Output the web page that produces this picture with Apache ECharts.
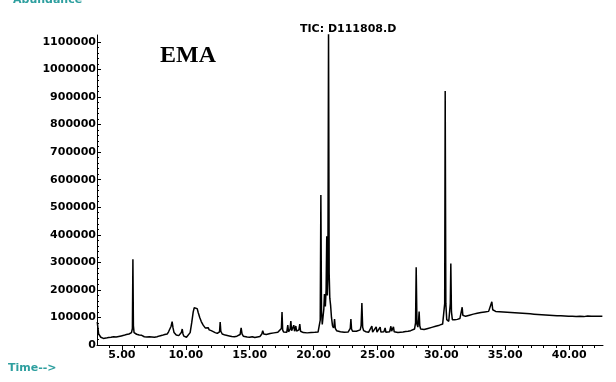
<!DOCTYPE html>
<html>
<head>
<meta charset="utf-8">
<script src="https://cdn.jsdelivr.net/npm/echarts@6/dist/echarts.min.js"></script>
<style>
  html, body { margin: 0; padding: 0; background: #ffffff; }
  #chart { width: 616px; height: 382px; }
</style>
</head>
<body>
<div id="chart"></div>
<script>
// Total ion chromatogram: retention time (min) vs. abundance
const retentionTime = [
  3.07, 3.12, 3.18, 3.25, 3.35, 3.45, 3.55, 3.65, 3.75, 3.85, 3.95, 4.05, 4.15, 4.25, 4.35, 4.45, 4.55, 4.65, 4.75, 4.85,
  4.95, 5.05, 5.15, 5.25, 5.35, 5.45, 5.55, 5.65, 5.75, 5.82, 5.86, 5.90, 5.95, 6.05, 6.15, 6.25, 6.35, 6.45, 6.55, 6.65,
  6.75, 6.85, 6.95, 7.05, 7.15, 7.25, 7.35, 7.45, 7.55, 7.65, 7.75, 7.85, 7.95, 8.05, 8.15, 8.25, 8.35, 8.45, 8.55, 8.65,
  8.75, 8.85, 8.93, 9.00, 9.08, 9.15, 9.25, 9.35, 9.45, 9.55, 9.65, 9.72, 9.78, 9.85, 9.95, 10.05, 10.19, 10.34, 10.46, 10.58,
  10.66, 10.74, 10.81, 10.89, 10.97, 11.09, 11.21, 11.36, 11.44, 11.52, 11.60, 11.67, 11.75, 11.83, 11.91, 11.99, 12.14, 12.30, 12.46, 12.57,
  12.64, 12.69, 12.74, 12.85, 13.08, 13.2, 13.4, 13.6, 13.8, 14.0, 14.15, 14.25, 14.33, 14.40, 14.5, 14.65, 14.8, 15.0, 15.2, 15.4,
  15.6, 15.8, 15.95, 16.02, 16.1, 16.2, 16.3, 16.45, 16.6, 16.75, 16.9, 17.05, 17.2, 17.35, 17.48, 17.53, 17.58, 17.65, 17.75, 17.9,
  17.98, 18.04, 18.10, 18.16, 18.22, 18.28, 18.35, 18.45, 18.51, 18.57, 18.61, 18.67, 18.76, 18.85, 18.92, 18.98, 19.07, 19.2, 19.35, 19.5,
  19.65, 19.8, 19.95, 20.1, 20.25, 20.35, 20.45, 20.52, 20.57, 20.62, 20.68, 20.74, 20.80, 20.85, 20.92, 20.98, 21.03, 21.08, 21.12, 21.17,
  21.22, 21.27, 21.33, 21.40, 21.48, 21.56, 21.60, 21.64, 21.70, 21.8, 21.95, 22.1, 22.25, 22.4, 22.55, 22.7, 22.8, 22.87, 22.92, 22.97,
  23.05, 23.2, 23.35, 23.5, 23.65, 23.72, 23.78, 23.84, 23.92, 24.0, 24.1, 24.2, 24.3, 24.45, 24.56, 24.62, 24.75, 24.9, 24.96, 25.08,
  25.21, 25.27, 25.4, 25.5, 25.6, 25.66, 25.8, 25.95, 26.05, 26.11, 26.18, 26.25, 26.31, 26.45, 26.6, 26.8, 27.0, 27.2, 27.4, 27.6,
  27.75, 27.9, 27.98, 28.03, 28.09, 28.16, 28.22, 28.26, 28.31, 28.38, 28.5, 28.65, 28.8, 28.95, 29.1, 29.25, 29.4, 29.55, 29.7, 29.85,
  30.0, 30.1, 30.2, 30.26, 30.30, 30.35, 30.42, 30.5, 30.58, 30.66, 30.70, 30.74, 30.79, 30.86, 30.95, 31.05, 31.15, 31.25, 31.35, 31.45,
  31.55, 31.63, 31.68, 31.75, 31.9, 32.05, 32.2, 32.35, 32.5, 32.65, 32.8, 32.95, 33.1, 33.25, 33.4, 33.55, 33.7, 33.85, 33.95, 34.02,
  34.1, 34.25, 34.4, 34.55, 34.7, 34.85, 35.0, 35.15, 35.3, 35.45, 35.6, 35.75, 35.9, 36.05, 36.2, 36.35, 36.5, 36.65, 36.8, 36.95,
  37.1, 37.25, 37.4, 37.55, 37.7, 37.85, 38.0, 38.15, 38.3, 38.45, 38.6, 38.75, 38.9, 39.05, 39.2, 39.35, 39.5, 39.65, 39.8, 39.95,
  40.1, 40.25, 40.4, 40.55, 40.7, 40.85, 41.0, 41.15, 41.3, 41.45, 41.6, 41.75, 41.9, 42.05, 42.2, 42.35, 42.5, 42.6
];

const abundance = [
  84000, 62000, 40000, 33000, 28000, 31000, 24000, 29000, 25000, 30000, 27000, 24000, 28000, 26000, 30000, 27000, 29000, 26000, 31000, 29000,
  33000, 31000, 35000, 33000, 38000, 36000, 40000, 42000, 45000, 60000, 311000, 70000, 45000, 42000, 39000, 40000, 36000, 34000, 35000, 31000,
  30000, 32000, 29000, 28000, 30000, 27000, 29000, 26000, 28000, 27000, 30000, 29000, 33000, 31000, 35000, 34000, 38000, 36000, 40000, 48000,
  55000, 68000, 85000, 62000, 45000, 38000, 36000, 33000, 34000, 36000, 45000, 58000, 40000, 32000, 30000, 28000, 29000, 45000, 80000, 120000,
  135000, 142000, 140000, 132000, 118000, 100000, 85000, 72000, 66000, 62000, 68000, 58000, 63000, 55000, 60000, 52000, 50000, 45000, 42000, 40000,
  48000, 83000, 50000, 40000, 36000, 34000, 33000, 31000, 30000, 32000, 31000, 38000, 62000, 40000, 32000, 31000, 29000, 28000, 30000, 27000,
  29000, 31000, 40000, 52000, 40000, 45000, 38000, 40000, 42000, 39000, 44000, 42000, 46000, 44000, 60000, 120000, 55000, 47000, 45000, 46000,
  72000, 48000, 50000, 58000, 87000, 52000, 50000, 72000, 50000, 52000, 69000, 50000, 48000, 55000, 76000, 50000, 46000, 45000, 47000, 44000,
  46000, 45000, 47000, 46000, 48000, 47000, 52000, 90000, 544000, 120000, 75000, 80000, 130000, 185000, 140000, 200000, 395000, 180000, 250000, 1140000,
  260000, 170000, 145000, 100000, 70000, 62000, 70000, 94000, 60000, 52000, 50000, 48000, 50000, 46000, 48000, 47000, 50000, 60000, 94000, 58000,
  50000, 48000, 50000, 52000, 55000, 70000, 152000, 65000, 52000, 50000, 48000, 47000, 46000, 48000, 69000, 47000, 48000, 66000, 47000, 46000,
  65000, 47000, 45000, 48000, 62000, 46000, 47000, 48000, 68000, 50000, 52000, 66000, 48000, 46000, 45000, 46000, 47000, 49000, 50000, 52000,
  55000, 58000, 80000, 282000, 75000, 65000, 90000, 121000, 70000, 58000, 55000, 56000, 58000, 60000, 62000, 64000, 66000, 68000, 70000, 72000,
  74000, 76000, 80000, 150000, 922000, 150000, 92000, 88000, 86000, 90000, 150000, 296000, 120000, 92000, 90000, 92000, 91000, 93000, 95000, 96000,
  100000, 137000, 108000, 102000, 104000, 106000, 108000, 110000, 112000, 113000, 115000, 116000, 118000, 119000, 120000, 121000, 122000, 125000, 157000, 128000,
  124000, 122000, 123000, 121000, 122000, 120000, 121000, 119000, 120000, 118000, 119000, 117000, 118000, 116000, 117000, 115000, 116000, 114000, 115000, 113000,
  114000, 112000, 113000, 111000, 112000, 110000, 111000, 109000, 110000, 108000, 109000, 107000, 108000, 106000, 108000, 106000, 107000, 105000, 106000, 104000,
  106000, 104000, 105000, 103000, 105000, 104000, 105000, 103000, 104000, 105000, 103000, 104000, 103000, 104000, 103000, 104000, 103000, 104000
];

// Axis tick labels
const timeTicks = [5, 10, 15, 20, 25, 30, 35, 40];
const timeMinorTicks = [4, 6, 7, 8, 9, 11, 12, 13, 14, 16, 17, 18, 19, 21, 22, 23, 24, 26, 27, 28, 29, 31, 32, 33, 34, 36, 37, 38, 39, 41, 42];
const abundanceTicks = [0, 100000, 200000, 300000, 400000, 500000, 600000, 700000, 800000, 900000, 1000000, 1100000];
const abundanceMinorTicks = [];
for (let v = 20000; v < 1120000; v += 20000) {
  if (v % 100000 !== 0) abundanceMinorTicks.push(v);
}

const X_MIN = 3.05, X_MAX = 42.65;
const Y_MIN = 0, Y_MAX = 1125000;

const labelFont = {
  fontFamily: 'DejaVu Sans',
  fontWeight: 'bold',
  fontSize: 11,
  color: '#000000'
};
const teal = '#2e9f9f';

const chart = echarts.init(document.getElementById('chart'), null, { renderer: 'canvas' });

const option = {
  animation: false,
  backgroundColor: '#ffffff',
  grid: { left: 97, top: 35, right: 13, bottom: 37, containLabel: false },
  xAxis: [
    {
      type: 'value', min: X_MIN, max: X_MAX, position: 'bottom',
      axisLine: { show: true, onZero: false, lineStyle: { color: '#000', width: 1 } },
      axisTick: { show: true, customValues: timeTicks, length: 5, lineStyle: { color: '#000', width: 1 } },
      axisLabel: Object.assign({ show: true, customValues: timeTicks, margin: 5,
        formatter: v => Number(v).toFixed(2) }, labelFont),
      splitLine: { show: false }
    },
    {
      type: 'value', min: X_MIN, max: X_MAX, position: 'bottom',
      axisLine: { show: false, onZero: false },
      axisTick: { show: true, customValues: timeMinorTicks, length: 3, lineStyle: { color: '#000', width: 1 } },
      axisLabel: { show: false },
      splitLine: { show: false }
    }
  ],
  yAxis: [
    {
      type: 'value', min: Y_MIN, max: Y_MAX, position: 'left',
      axisLine: { show: true, onZero: false, lineStyle: { color: '#000', width: 1 } },
      axisTick: { show: true, inside: true, customValues: abundanceTicks, length: 4, lineStyle: { color: '#000', width: 1 } },
      axisLabel: Object.assign({ show: true, customValues: abundanceTicks, margin: 1,
        formatter: v => String(Math.round(v)) }, labelFont),
      splitLine: { show: false }
    },
    {
      type: 'value', min: Y_MIN, max: Y_MAX, position: 'left',
      axisLine: { show: false, onZero: false },
      axisTick: { show: true, inside: true, customValues: abundanceMinorTicks, length: 2, lineStyle: { color: '#000', width: 1 } },
      axisLabel: { show: false },
      splitLine: { show: false }
    }
  ],
  series: [
    {
      type: 'line',
      xAxisIndex: 0,
      yAxisIndex: 0,
      data: retentionTime.map((t, i) => [t, abundance[i]]),
      showSymbol: false,
      symbol: 'none',
      smooth: false,
      clip: true,
      lineStyle: { color: '#000000', width: 1.5 },
      silent: true
    }
  ],
  graphic: [
    {
      type: 'text', x: 13, y: 6,
      style: { text: 'Abundance', fill: teal, font: 'bold 11px "DejaVu Sans"', verticalAlign: 'bottom' }
    },
    {
      type: 'text', x: 8, y: 363,
      style: { text: 'Time-->', fill: teal, font: 'bold 11px "DejaVu Sans"' }
    },
    {
      type: 'text', x: 300, y: 24,
      style: { text: 'TIC: D111808.D', fill: '#000', font: 'bold 11px "DejaVu Sans"' }
    },
    {
      type: 'text', x: 160, y: 44,
      style: { text: 'EMA', fill: '#000', font: 'bold 24px "Liberation Serif"' }
    }
  ]
};

chart.setOption(option);
</script>
</body>
</html>
